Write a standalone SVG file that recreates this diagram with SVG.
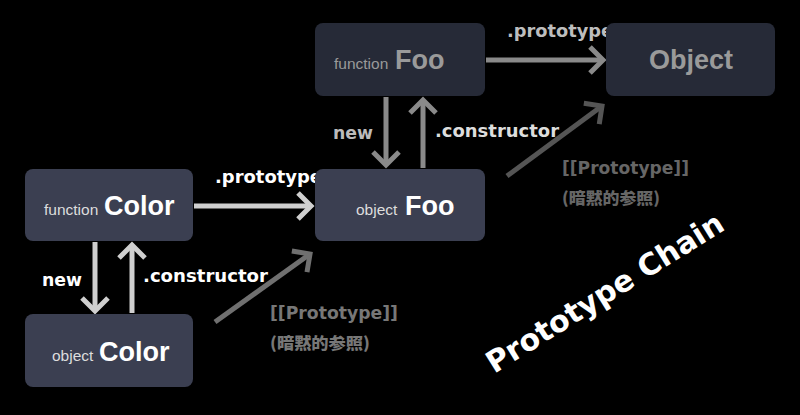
<svg xmlns="http://www.w3.org/2000/svg" width="800" height="415" viewBox="0 0 800 415">
<defs>
<style>
.bg{fill:#000}
.dark{fill:#262a37}
.light{fill:#3b3f51}
.small{font-family:"Liberation Sans",Arial,sans-serif;font-size:15.5px}
.big{font-family:"Liberation Sans",Arial,sans-serif;font-size:27px;font-weight:bold}
.lbl{font-family:"DejaVu Sans","Noto Sans CJK JP",sans-serif;font-size:18px;font-weight:bold}
.cjk{font-family:"Noto Sans CJK JP","DejaVu Sans",sans-serif;font-size:16px;font-weight:900}
.ln{fill:none;stroke-width:5}
</style>
<marker id="mA" markerUnits="userSpaceOnUse" markerWidth="30" markerHeight="30" viewBox="-17 -15 20 30" refX="0" refY="0" orient="auto"><path d="M-13,-13 L0,0 L-13,13" fill="none" stroke="#8a8a8a" stroke-width="5"/></marker>
<marker id="mB" markerUnits="userSpaceOnUse" markerWidth="30" markerHeight="30" viewBox="-17 -15 20 30" refX="0" refY="0" orient="auto"><path d="M-13,-13 L0,0 L-13,13" fill="none" stroke="#cfcfcf" stroke-width="5"/></marker>
<marker id="mC" markerUnits="userSpaceOnUse" markerWidth="30" markerHeight="30" viewBox="-17 -15 20 30" refX="0" refY="0" orient="auto"><path d="M-13,-13 L0,0 L-13,13" fill="none" stroke="#555" stroke-width="5"/></marker>
<marker id="mD" markerUnits="userSpaceOnUse" markerWidth="30" markerHeight="30" viewBox="-17 -15 20 30" refX="0" refY="0" orient="auto"><path d="M-13,-13 L0,0 L-13,13" fill="none" stroke="#707070" stroke-width="5"/></marker>
</defs>
<rect class="bg" width="800" height="415"/>

<g id="connectors">
<path class="ln" d="M486,60 L603,60" stroke="#8a8a8a" marker-end="url(#mA)"/>
<path class="ln" d="M386,97 L386,165" stroke="#8a8a8a" marker-end="url(#mA)"/>
<path class="ln" d="M423,168 L423,100" stroke="#8a8a8a" marker-end="url(#mA)"/>
<path class="ln" d="M507,176 L602,106" stroke="#555" marker-end="url(#mC)"/>
<path class="ln" d="M194,206 L311,206" stroke="#cfcfcf" marker-end="url(#mB)"/>
<path class="ln" d="M95,242 L95,311" stroke="#cfcfcf" marker-end="url(#mB)"/>
<path class="ln" d="M132,313 L132,245" stroke="#cfcfcf" marker-end="url(#mB)"/>
<path class="ln" d="M215,322 L310,254" stroke="#707070" marker-end="url(#mD)"/>
<text class="lbl" x="507" y="37" fill="#bdbdbd" textLength="106" lengthAdjust="spacingAndGlyphs">.prototype</text>
<text class="lbl" x="333" y="139" fill="#bbbbbb" textLength="40" lengthAdjust="spacingAndGlyphs">new</text>
<text class="lbl" x="435" y="137" fill="#dddddd" textLength="124" lengthAdjust="spacingAndGlyphs">.constructor</text>
<text class="lbl" x="562" y="174" fill="#666" textLength="127" lengthAdjust="spacingAndGlyphs">[[Prototype]]</text>
<text class="cjk" x="562" y="204" fill="#666" textLength="98" lengthAdjust="spacingAndGlyphs">(暗黙的参照)</text>
<text class="lbl" x="215" y="183" fill="#fff" textLength="107" lengthAdjust="spacingAndGlyphs">.prototype</text>
<text class="lbl" x="42" y="286" fill="#fff" textLength="40" lengthAdjust="spacingAndGlyphs">new</text>
<text class="lbl" x="143" y="282" fill="#fff" textLength="125" lengthAdjust="spacingAndGlyphs">.constructor</text>
<text class="lbl" x="270" y="319" fill="#777" textLength="128" lengthAdjust="spacingAndGlyphs">[[Prototype]]</text>
<text class="cjk" x="270" y="349" fill="#777" textLength="100" lengthAdjust="spacingAndGlyphs">(暗黙的参照)</text>
</g>

<g id="functionFoo">
<rect class="dark" x="315" y="23" width="170" height="73" rx="8"/>
<text class="small" x="334" y="69" fill="#9a9a9a">function</text>
<text class="big" x="395" y="69" fill="#9a9a9a">Foo</text>
</g>
<g id="Object">
<rect class="dark" x="606" y="23" width="169" height="73" rx="8"/>
<text class="big" x="691" y="69" fill="#9a9a9a" text-anchor="middle">Object</text>
</g>
<g id="objectFoo">
<rect class="light" x="315" y="169" width="170" height="72" rx="8"/>
<text class="small" x="356" y="215" fill="#ddd">object</text>
<text class="big" x="405" y="215" fill="#fff">Foo</text>
</g>
<g id="functionColor">
<rect class="light" x="25" y="169" width="168" height="72" rx="8"/>
<text class="small" x="44" y="215" fill="#ddd">function</text>
<text class="big" x="104" y="215" fill="#fff">Color</text>
</g>
<g id="objectColor">
<rect class="light" x="25" y="314" width="168" height="73" rx="8"/>
<text class="small" x="52" y="361" fill="#ddd">object</text>
<text class="big" x="99" y="361" fill="#fff">Color</text>
</g>

<text transform="translate(605,293) rotate(-32)" x="0" y="10" text-anchor="middle" font-family="DejaVu Sans, sans-serif" font-weight="bold" font-size="30" fill="#fff">Prototype Chain</text>
</svg>
